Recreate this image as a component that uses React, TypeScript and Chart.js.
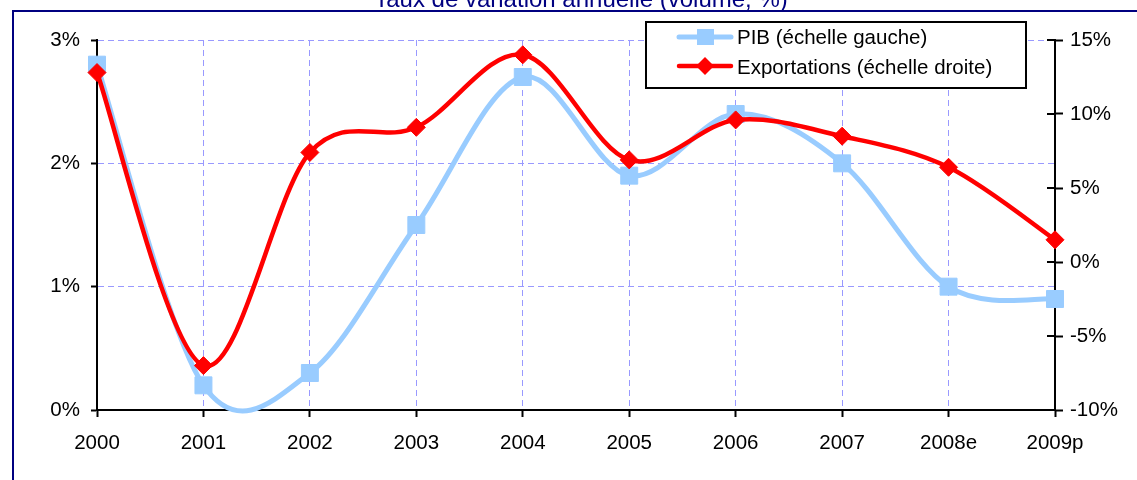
import React, { useEffect, useRef } from "react";
import { Chart, registerables } from "chart.js";

Chart.register(...registerables);

const categories = ["2000", "2001", "2002", "2003", "2004", "2005", "2006", "2007", "2008e", "2009p"];
const pibValues = [2.8, 0.2, 0.3, 1.5, 2.7, 1.9, 2.4, 2.0, 1.0, 0.9];
const exportValues = [12.8, -7.0, 7.4, 9.1, 14.0, 6.9, 9.6, 8.5, 6.4, 1.5];
const titleText = "Taux de variation annuelle (volume, %)";
const pibLabel = "PIB (échelle gauche)";
const exportLabel = "Exportations (échelle droite)";

const FONT = "'Liberation Sans', Arial, sans-serif";
const BLUE = "#99CCFF";
const RED = "#FF0000";
const GRID = "#9999FF";
const NAVY = "#000080";

const catmullRom = {
  id: "catmullRom",
  beforeDatasetDraw(chart: any, args: any) {
    const meta = args.meta;
    const line = meta.dataset;
    if (!line) return;
    line.updateControlPoints(chart.chartArea, meta.iScale.axis);
    const pts = meta.data;
    const n = pts.length;
    for (let i = 0; i < n; i++) {
      const p = pts[i];
      const prev = pts[Math.max(0, i - 1)];
      const next = pts[Math.min(n - 1, i + 1)];
      const dx = (next.x - prev.x) / 6;
      const dy = (next.y - prev.y) / 6;
      p.cp1x = p.x - dx;
      p.cp1y = p.y - dy;
      p.cp2x = p.x + dx;
      p.cp2y = p.y + dy;
    }
    line._path = undefined;
  },
};

const frame = {
  id: "frame",
  beforeDraw(chart: any) {
    const ctx = chart.ctx;
    ctx.save();
    ctx.fillStyle = "#fff";
    ctx.fillRect(0, 0, chart.width, chart.height);
    ctx.strokeStyle = NAVY;
    ctx.lineWidth = 2;
    ctx.strokeRect(13, 11, chart.width + 20, chart.height + 20);
    ctx.fillStyle = NAVY;
    ctx.font = `24px ${FONT}`;
    ctx.textAlign = "center";
    ctx.textBaseline = "alphabetic";
    ctx.fillText(titleText, 581, 7);
    ctx.restore();
  },
};

const extras = {
  id: "extras",
  afterDraw(chart: any) {
    const ctx = chart.ctx;
    const area = chart.chartArea;
    const y1 = chart.scales.y1;
    ctx.save();
    // inner tick marks on right axis
    ctx.strokeStyle = "#000";
    ctx.lineWidth = 2;
    y1.ticks.forEach((t: any) => {
      const py = Math.round(y1.getPixelForValue(t.value));
      ctx.beginPath();
      ctx.moveTo(area.right - 8, py);
      ctx.lineTo(area.right, py);
      ctx.stroke();
    });
    // legend
    const bx = 646, by = 22, bw = 380, bh = 66;
    ctx.fillStyle = "#fff";
    ctx.fillRect(bx, by, bw, bh);
    ctx.strokeStyle = "#000";
    ctx.lineWidth = 2;
    ctx.strokeRect(bx, by, bw, bh);
    const rows = [
      { ds: chart.data.datasets[1], y: 37, base: 44 },
      { ds: chart.data.datasets[0], y: 66, base: 74 },
    ];
    rows.forEach((r) => {
      const ds = r.ds;
      ctx.strokeStyle = ds.borderColor;
      ctx.lineWidth = ds.borderWidth;
      ctx.lineCap = "round";
      ctx.beginPath();
      ctx.moveTo(679, r.y);
      ctx.lineTo(731, r.y);
      ctx.stroke();
      ctx.fillStyle = ds.pointBackgroundColor;
      if (ds.pointStyle === "rect") {
        ctx.fillRect(697, r.y - 8, 17, 16);
      } else {
        ctx.beginPath();
        ctx.moveTo(705, r.y - 9);
        ctx.lineTo(714, r.y);
        ctx.lineTo(705, r.y + 9);
        ctx.lineTo(696, r.y);
        ctx.closePath();
        ctx.fill();
      }
      ctx.fillStyle = "#000";
      ctx.font = `20.5px ${FONT}`;
      ctx.textAlign = "left";
      ctx.textBaseline = "alphabetic";
      ctx.fillText(ds.label, 737, r.base);
    });
    ctx.restore();
  },
};

export default function App() {
  const ref = useRef<HTMLCanvasElement | null>(null);
  useEffect(() => {
    document.body.style.margin = "0";
    const canvas = ref.current;
    if (!canvas) return;
    const chart = new Chart(canvas, {
      type: "line",
      data: {
        labels: categories,
        datasets: [
          {
            label: exportLabel,
            data: exportValues,
            yAxisID: "y1",
            borderColor: RED,
            backgroundColor: RED,
            borderWidth: 4.5,
            pointStyle: "rectRot",
            pointRadius: 9,
            pointBackgroundColor: RED,
            pointBorderColor: RED,
            pointBorderWidth: 1,
            tension: 0.4,
            fill: false,
            clip: false,
            order: 0,
          } as any,
          {
            label: pibLabel,
            data: pibValues,
            yAxisID: "y",
            borderColor: BLUE,
            backgroundColor: BLUE,
            borderWidth: 5,
            pointStyle: "rect",
            pointRadius: 12,
            pointBackgroundColor: BLUE,
            pointBorderColor: BLUE,
            pointBorderWidth: 1,
            tension: 0.4,
            fill: false,
            clip: false,
            order: 1,
          } as any,
        ],
      },
      options: {
        responsive: false,
        animation: false,
        devicePixelRatio: 1,
        layout: { padding: { top: 40, left: 0, right: 0, bottom: 0 } },
        plugins: {
          legend: { display: false },
          title: { display: false },
          tooltip: { enabled: false },
        },
        scales: {
          x: {
            type: "category",
            offset: false,
            grid: {
              color: GRID,
              lineWidth: 1,
              drawTicks: true,
              tickLength: 7,
              tickColor: "#000",
              tickWidth: 2,
            },
            border: { display: true, color: "#000", width: 2, dash: [6, 4] },
            ticks: {
              color: "#000",
              font: { family: FONT, size: 20.5 },
              padding: 14,
              maxRotation: 0,
              autoSkip: false,
            },
            afterFit: (s: any) => {
              s.height = 70;
            },
          },
          y: {
            type: "linear",
            position: "left",
            min: 0,
            max: 3,
            grid: {
              color: GRID,
              lineWidth: 1,
              drawTicks: true,
              tickLength: 6,
              tickColor: "#000",
              tickWidth: 2,
            },
            border: { display: true, color: "#000", width: 2, dash: [6, 4] },
            ticks: {
              stepSize: 1,
              color: "#000",
              font: { family: FONT, size: 20.5 },
              padding: 11,
              callback: (v: any) => `${v}%`,
            },
            afterFit: (s: any) => {
              s.width = 97;
            },
          },
          y1: {
            type: "linear",
            position: "right",
            min: -10,
            max: 15,
            grid: {
              drawOnChartArea: false,
              drawTicks: true,
              tickLength: 8,
              tickColor: "#000",
              tickWidth: 2,
            },
            border: { display: true, color: "#000", width: 2 },
            ticks: {
              stepSize: 5,
              color: "#000",
              font: { family: FONT, size: 20.5 },
              padding: 7,
              callback: (v: any) => `${v}%`,
            },
            afterFit: (s: any) => {
              s.width = 82;
            },
          },
        },
      } as any,
      plugins: [frame, catmullRom, extras],
    });
    return () => chart.destroy();
  }, []);
  return (
    <canvas
      ref={ref}
      width={1137}
      height={480}
      style={{ display: "block", width: 1137, height: 480 }}
    />
  );
}
